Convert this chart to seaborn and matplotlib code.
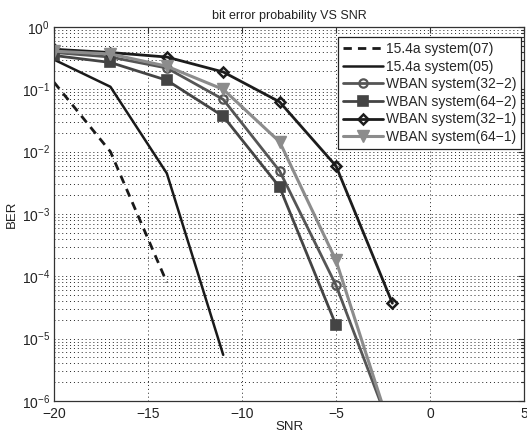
import numpy as np
import pandas as pd
import matplotlib
matplotlib.use("Agg")
import matplotlib.pyplot as plt
import seaborn as sns
from matplotlib.ticker import LogLocator, FixedLocator, NullFormatter

# ---- data ----
snr_07 = [-20, -17, -14]
ber_07 = [0.13, 0.010, 8.0e-5]

snr_05 = [-20, -17, -14, -11]
ber_05 = [0.30, 0.11, 4.5e-3, 5.5e-6]

snr_32_2 = [-20, -17, -14, -11, -8, -5, -2]
ber_32_2 = [0.39, 0.33, 0.22, 0.069, 4.9e-3, 7.2e-5, 3.0e-7]

snr_64_2 = [-20, -17, -14, -11, -8, -5]
ber_64_2 = [0.35, 0.27, 0.14, 0.037, 2.7e-3, 1.65e-5]

snr_32_1 = [-20, -17, -14, -11, -8, -5, -2]
ber_32_1 = [0.44, 0.39, 0.33, 0.19, 0.063, 5.9e-3, 3.7e-5]

snr_64_1 = [-20, -17, -14, -11, -8, -5, -2]
ber_64_1 = [0.41, 0.37, 0.235, 0.10, 0.0144, 1.8e-4, 2.8e-7]

labels = ["15.4a system(07)", "15.4a system(05)", "WBAN system(32\u22122)",
          "WBAN system(64\u22122)", "WBAN system(32\u22121)", "WBAN system(64\u22121)"]
x_ticks = [-20, -15, -10, -5, 0, 5]

sns.set_theme(style="white")
plt.rcParams['font.family'] = ['Liberation Sans', 'DejaVu Sans']
plt.rcParams['mathtext.fontset'] = 'custom'
plt.rcParams['mathtext.rm'] = 'Liberation Sans'

fig = plt.figure(figsize=(5.27, 4.36), dpi=100)
ax = fig.add_axes([0.1025, 0.0803, 0.8918, 0.8577])

series = [
    (snr_07, ber_07, dict(color="#1a1a1a", lw=2.0, dashes=(3, 2.2))),
    (snr_05, ber_05, dict(color="#1a1a1a", lw=1.8)),
    (snr_32_2, ber_32_2, dict(color="#555555", lw=2.0, marker="o", ms=6, mfc="none", mew=1.6, mec="#555555")),
    (snr_64_2, ber_64_2, dict(color="#444444", lw=2.0, marker="s", ms=7, mfc="#444444", mew=1.2, mec="#444444")),
    (snr_32_1, ber_32_1, dict(color="#1c1c1c", lw=2.0, marker="D", ms=5.5, mfc="none", mew=1.8, mec="#1c1c1c")),
    (snr_64_1, ber_64_1, dict(color="#8c8c8c", lw=2.2, marker="v", ms=8, mfc="#8c8c8c", mew=1.0, mec="#8c8c8c")),
]

for (xs, ys, kw), lab in zip(series, labels):
    df = pd.DataFrame({"SNR": xs, "BER": ys})
    kw = dict(kw)
    dashes = kw.pop("dashes", None)
    sns.lineplot(data=df, x="SNR", y="BER", ax=ax, label=lab,
                 color=kw.pop("color"), linewidth=kw.pop("lw"), **kw)
    if dashes is not None:
        ax.lines[-1].set_dashes(dashes)

ax.set_yscale("log")
ax.set_xlim(-20, 5)
ax.set_ylim(1e-6, 1)
ax.xaxis.set_major_locator(FixedLocator(x_ticks))
ax.set_xticklabels([str(t).replace("-", "\u2212") for t in x_ticks])
ax.yaxis.set_major_locator(LogLocator(base=10, numticks=10))
ax.yaxis.set_minor_locator(LogLocator(base=10, subs=np.arange(2, 10), numticks=20))
ax.yaxis.set_minor_formatter(NullFormatter())

ax.grid(True, which="major", axis="both", linestyle=(0, (1, 3)), color="#222222", linewidth=0.7)
ax.grid(True, which="minor", axis="y", linestyle=(0, (1, 3)), color="#222222", linewidth=0.7)
ax.set_axisbelow(True)

for s in ax.spines.values():
    s.set_color("#333333")
    s.set_linewidth(0.9)
ax.tick_params(which="both", direction="in", length=4, width=0.8, colors="#333333",
               labelsize=10, labelcolor="#222222", top=True, right=True, pad=3)
ax.tick_params(axis="x", pad=4)
ax.tick_params(which="minor", length=2)

ax.set_title("bit error probability VS SNR", fontsize=9, color="#222222", pad=6)
ax.set_xlabel("SNR", fontsize=9.5, color="#222222", labelpad=0)
ax.set_ylabel("BER", fontsize=9.5, color="#222222", labelpad=3)

leg = ax.legend(loc="upper right", bbox_to_anchor=(0.9936, 0.973), fontsize=10,
                frameon=True, fancybox=False, edgecolor="#222222", framealpha=1,
                borderpad=0.35, labelspacing=0.26, handlelength=2.9,
                handletextpad=0.2, borderaxespad=0.0)
leg.get_frame().set_linewidth(0.9)

fig.savefig("out.png", dpi=100)
